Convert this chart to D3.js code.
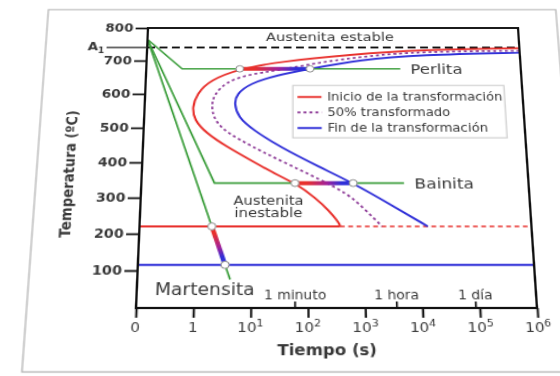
<!DOCTYPE html>
<html>
<head>
<meta charset="utf-8">
<script src="https://cdn.jsdelivr.net/npm/d3@7"></script>
<style>
html, body { margin: 0; padding: 0; background: #fff; overflow: hidden; }
#chart { position: absolute; left: 0; top: 0; overflow: visible; transform-origin: 0 0; filter: blur(0.35px); }
text { font-family: "DejaVu Sans", sans-serif; fill: #383838; }
</style>
</head>
<body>
<svg id="chart" width="600" height="420"></svg>
<script>
// curve points (time in s, temperature in ºC)
const inicioTime = [1e6, 13500, 650, 32, 5.6, 1.57, 0.91, 0.76, 0.84, 1.4, 3.3, 11, 30, 60, 140, 250, 340, 380, 380];
const inicioTemp = [738, 733, 718, 697, 675, 641, 600, 560, 523, 485, 446, 400, 362, 341, 300, 262, 236, 224, 220];

const medioTime = [1e6, 13500, 1550, 220, 32, 7.0, 3.1, 1.97, 1.72, 1.85, 2.87, 5.9, 15.7, 49, 170, 525, 1070, 2140];
const medioTemp = [730, 727, 715, 697, 672, 656, 634, 600, 571, 531, 494, 465, 429, 392, 351, 312, 268, 220];

const finTime = [1e6, 13500, 1000, 115, 27.5, 8.8, 5.0, 4.5, 5.4, 10.2, 32, 170, 676, 3020, 14100];
const finTemp = [724, 718, 703, 675, 656, 631, 600, 571, 531, 494, 444, 386, 341, 282, 220];

// cooling paths
const perlTime = [0.1, 0.47, 5600];
const perlTemp = [765, 675, 675];
const bainTime = [0.1, 2.1, 5600];
const bainTemp = [765, 341, 341];
const martTime = [0.1, 4.3];
const martTemp = [765, 76];

// where the paths cut the start / end curves
const perlCut = [5.6, 115];
const bainCut = [60, 676];

const A1 = 740, Ms = 220, Mf = 115;
const msRedEnd = 380;

const yTicks = [100, 200, 300, 400, 500, 600, 700, 800];
const xTicks = [0.1, 1, 10, 100, 1e3, 1e4, 1e5, 1e6];
const xTickBase = ['0', '1', '10', '10', '10', '10', '10', '10'];
const xTickExp = ['', '', '1', '2', '3', '4', '5', '6'];
const timeMarks = [60, 3600, 86400];
const timeMarkLabels = ['1 minuto', '1 hora', '1 día'];
const legendLabels = ['Inicio de la transformación', '50% transformado', 'Fin de la transformación'];

const green = '#3a9d3a', red = '#e8302c', blue = '#2f2fd8', purple = '#8e3c98';

const ML = 150, MT = 28, W = 330, H = 280;

const svg = d3.select('#chart');

// photo of a sheet seen slightly from below: flat plot -> screen quad
const quad = [[148, 28], [518, 28], [537, 308], [136, 308]];
const setPerspective = () => {
  const [[x0, y0], [x1, y1], [x2, y2], [x3, y3]] = quad;
  const dx1 = x1 - x2, dx2 = x3 - x2, dx3 = x0 - x1 + x2 - x3;
  const dy1 = y1 - y2, dy2 = y3 - y2, dy3 = y0 - y1 + y2 - y3;
  const den = dx1 * dy2 - dx2 * dy1;
  const g = (dx3 * dy2 - dx2 * dy3) / den;
  const h = (dx1 * dy3 - dx3 * dy1) / den;
  const a = x1 - x0 + g * x1, b = x3 - x0 + h * x3, c = x0;
  const d = y1 - y0 + g * y1, e = y3 - y0 + h * y3, f = y0;
  // u = (X-ML)/W, v = (Y-MT)/H
  let m11 = a / W, m12 = b / H, m13 = c - a * ML / W - b * MT / H;
  let m21 = d / W, m22 = e / H, m23 = f - d * ML / W - e * MT / H;
  let m31 = g / W, m32 = h / H, m33 = 1 - g * ML / W - h * MT / H;
  const k = m33;
  [m11, m12, m13, m21, m22, m23, m31, m32] = [m11, m12, m13, m21, m22, m23, m31, m32].map(v => v / k);
  svg.style('transform', `matrix3d(${m11},${m21},0,${m31},${m12},${m22},0,${m32},0,0,1,0,${m13},${m23},0,1)`);
};
setPerspective();

// paper sheet
svg.append('rect')
  .attr('x', ML - 90).attr('y', MT - 20)
  .attr('width', W + 125).attr('height', H + 78)
  .attr('fill', '#fff').attr('stroke', '#b4b4b4').attr('stroke-width', 1.2);

const g = svg.append('g').attr('transform', `translate(${ML},${MT})`);

const x = d3.scaleLog().domain([0.1, 1e6]).range([0, W]);
const y = d3.scaleLinear().domain([0, 800]).range([H, 0]);

const smooth = d3.line().x(d => x(d[0])).y(d => y(d[1])).curve(d3.curveBasis);
const straight = d3.line().x(d => x(d[0])).y(d => y(d[1]));

// A1, Ms, Mf lines
g.append('line')
  .attr('x1', x(0.1)).attr('x2', x(1e6)).attr('y1', y(A1)).attr('y2', y(A1))
  .attr('stroke', '#111').attr('stroke-width', 2).attr('stroke-dasharray', '7,4');
g.append('line')
  .attr('x1', x(0.1)).attr('x2', x(msRedEnd)).attr('y1', y(Ms)).attr('y2', y(Ms))
  .attr('stroke', red).attr('stroke-width', 1.8);
g.append('line')
  .attr('x1', x(msRedEnd)).attr('x2', x(1e6)).attr('y1', y(Ms)).attr('y2', y(Ms))
  .attr('stroke', red).attr('stroke-width', 1.5).attr('stroke-dasharray', '4,3');
g.append('line')
  .attr('x1', x(0.1)).attr('x2', x(1e6)).attr('y1', y(Mf)).attr('y2', y(Mf))
  .attr('stroke', blue).attr('stroke-width', 1.8);

// TTT curves
g.append('path').attr('d', smooth(d3.zip(inicioTime, inicioTemp)))
  .attr('fill', 'none').attr('stroke', red).attr('stroke-width', 1.9);
g.append('path').attr('d', smooth(d3.zip(medioTime, medioTemp)))
  .attr('fill', 'none').attr('stroke', purple).attr('stroke-width', 1.8).attr('stroke-dasharray', '2.6,2.6');
g.append('path').attr('d', smooth(d3.zip(finTime, finTemp)))
  .attr('fill', 'none').attr('stroke', blue).attr('stroke-width', 1.9);

// cooling paths
[[perlTime, perlTemp], [bainTime, bainTemp], [martTime, martTemp]].forEach(([t, T]) => {
  g.append('path').attr('d', straight(d3.zip(t, T)))
    .attr('fill', 'none').attr('stroke', green).attr('stroke-width', 1.6);
});

// Ms / Mf points on the martensite path
const onMart = temp => {
  const fr = (martTemp[0] - temp) / (martTemp[0] - martTemp[1]);
  const lt = Math.log10(martTime[0]) + fr * (Math.log10(martTime[1]) - Math.log10(martTime[0]));
  return Math.pow(10, lt);
};
const msT = onMart(Ms), mfT = onMart(Mf);

const defs = svg.append('defs');
const segs = [
  { id: 'gPerl', a: [perlCut[0], perlTemp[1]], b: [perlCut[1], perlTemp[1]] },
  { id: 'gBain', a: [bainCut[0], bainTemp[1]], b: [bainCut[1], bainTemp[1]] },
  { id: 'gMart', a: [msT, Ms], b: [mfT, Mf] }
];
segs.forEach(s => {
  const lg = defs.append('linearGradient').attr('id', s.id).attr('gradientUnits', 'userSpaceOnUse')
    .attr('x1', x(s.a[0])).attr('y1', y(s.a[1])).attr('x2', x(s.b[0])).attr('y2', y(s.b[1]));
  lg.append('stop').attr('offset', '0.2').attr('stop-color', red);
  lg.append('stop').attr('offset', '0.55').attr('stop-color', '#a0209a');
  lg.append('stop').attr('offset', '0.8').attr('stop-color', blue);
  g.append('line')
    .attr('x1', x(s.a[0])).attr('y1', y(s.a[1])).attr('x2', x(s.b[0])).attr('y2', y(s.b[1]))
    .attr('stroke', `url(#${s.id})`).attr('stroke-width', 4);
});

// marker circles
const cuts = segs.flatMap(s => [s.a, s.b]);
g.selectAll('circle.cut').data(cuts).join('circle')
  .attr('class', 'cut')
  .attr('cx', d => x(d[0])).attr('cy', d => y(d[1])).attr('r', 3.4)
  .attr('fill', '#fff').attr('stroke', '#8a8a8a').attr('stroke-width', 1);

// frame
g.append('rect').attr('width', W).attr('height', H)
  .attr('fill', 'none').attr('stroke', '#111').attr('stroke-width', 2);

// y axis
const yAx = g.append('g').call(d3.axisLeft(y).tickValues(yTicks).tickSize(11).tickPadding(2));
yAx.select('.domain').remove();
yAx.selectAll('line').attr('stroke', '#111').attr('stroke-width', 1.8);
yAx.selectAll('text').attr('font-size', 12).attr('font-family', '"DejaVu Sans", sans-serif')
  .attr('font-weight', 'bold').attr('fill', '#4a4a4a');

// A1 marker
g.append('line').attr('x1', -36).attr('x2', 0).attr('y1', y(A1)).attr('y2', y(A1))
  .attr('stroke', '#333').attr('stroke-width', 1.5);
const a1 = g.append('text').attr('x', -38).attr('y', y(A1) + 3).attr('text-anchor', 'end')
  .attr('font-size', 12).attr('font-weight', 'bold').attr('fill', '#4a4a4a');
a1.append('tspan').text('A');
a1.append('tspan').attr('font-size', 8).attr('dy', 3).text('1');

// x axis
const xAx = g.append('g').attr('transform', `translate(0,${H})`)
  .call(d3.axisBottom(x).tickValues(xTicks).tickSize(9).tickFormat(() => ''));
xAx.select('.domain').remove();
xAx.selectAll('line').attr('stroke', '#111').attr('stroke-width', 1.8);
xTicks.forEach((t, i) => {
  const tx = g.append('text').attr('x', x(t)).attr('y', H + 22).attr('text-anchor', 'middle')
    .attr('font-size', 12.5);
  tx.append('tspan').text(xTickBase[i]);
  if (xTickExp[i]) tx.append('tspan').attr('font-size', 9).attr('dy', -5).text(xTickExp[i]);
});

// minute / hour / day marks
timeMarks.forEach((t, i) => {
  g.append('line').attr('x1', x(t)).attr('x2', x(t)).attr('y1', H).attr('y2', H - 6)
    .attr('stroke', '#111').attr('stroke-width', 1.5);
  g.append('text').attr('x', x(t)).attr('y', H - 8).attr('text-anchor', 'middle')
    .attr('font-size', 11.5).text(timeMarkLabels[i]);
});

// axis titles
g.append('text').attr('x', 157).attr('y', H + 43).attr('text-anchor', 'middle')
  .attr('font-size', 13.5).attr('font-weight', 'bold').attr('fill', '#222').text('Tiempo (s)');
g.append('text').attr('transform', `translate(-58,${y(370)}) rotate(-90)`).attr('text-anchor', 'middle')
  .attr('font-size', 13).attr('font-weight', 'bold').attr('fill', '#222').text('Temperatura (ºC)');

// region labels
g.append('text').attr('x', x(275)).attr('y', y(761)).attr('text-anchor', 'middle')
  .attr('font-size', 13).text('Austenita estable');
g.append('text').attr('x', x(perlTime[2]) + 9).attr('y', y(perlTemp[2])).attr('dy', '0.36em')
  .attr('font-size', 14.5).text('Perlita');
g.append('text').attr('x', x(bainTime[2]) + 9).attr('y', y(bainTemp[2])).attr('dy', '0.36em')
  .attr('font-size', 14.5).text('Bainita');
g.append('text').attr('x', 15).attr('y', y(35)).attr('font-size', 15.5).text('Martensita');
g.append('text').attr('x', x(20)).attr('y', y(279)).attr('text-anchor', 'middle')
  .attr('font-size', 12.5).text('Austenita');
g.append('text').attr('x', x(20)).attr('y', y(247)).attr('text-anchor', 'middle')
  .attr('font-size', 12.5).text('inestable');

// legend
const lg = g.append('g').attr('transform', `translate(${x(55)},${y(625)})`);
lg.append('rect').attr('width', 185).attr('height', 54)
  .attr('fill', '#fff').attr('stroke', '#cfcfcf').attr('stroke-width', 1.2);
const legColors = [red, purple, blue];
const legDash = [null, '2.6,2.6', null];
legendLabels.forEach((lab, i) => {
  const ly = 12 + i * 16;
  lg.append('line').attr('x1', 4).attr('x2', 25).attr('y1', ly).attr('y2', ly)
    .attr('stroke', legColors[i]).attr('stroke-width', 2).attr('stroke-dasharray', legDash[i]);
  lg.append('text').attr('x', 30).attr('y', ly).attr('dy', '0.35em')
    .attr('font-size', 11.5).text(lab);
});
</script>
</body>
</html>
